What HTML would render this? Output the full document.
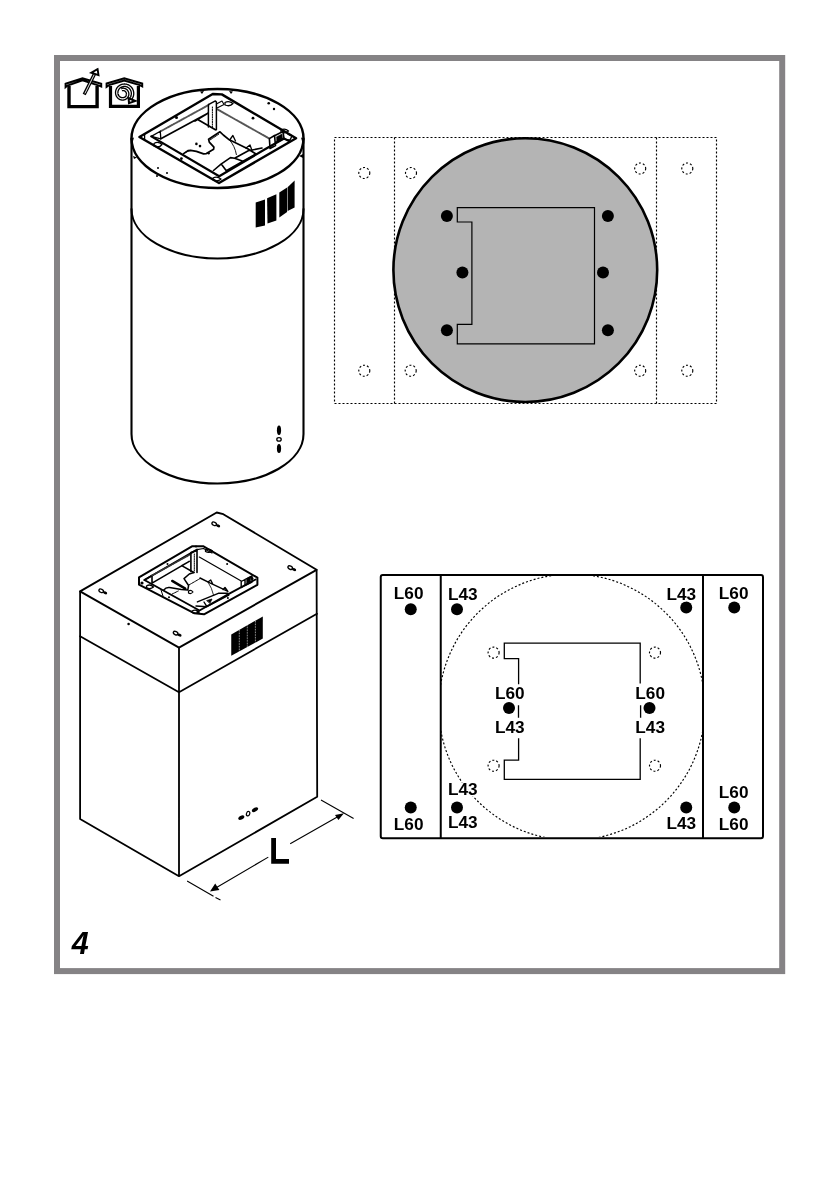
<!DOCTYPE html>
<html><head><meta charset="utf-8">
<style>
html,body{margin:0;padding:0;background:#fff;width:840px;height:1190px;overflow:hidden}
svg{position:absolute;left:0;top:0;display:block;will-change:transform}
text{font-family:"Liberation Sans",sans-serif;font-weight:bold;fill:#000}
</style></head><body>
<svg width="840" height="1190" viewBox="0 0 840 1190">
<!-- frame -->
<rect x="57" y="58" width="725.2" height="913.1" fill="none" stroke="#858385" stroke-width="6"/>

<!-- plan view 1 (top right) -->
<g fill="none" stroke="#000" stroke-width="1.15" stroke-dasharray="2 2">
<rect x="334.5" y="137.5" width="382" height="266"/>
<line x1="394.5" y1="137.5" x2="394.5" y2="403.5"/>
<line x1="656.5" y1="137.5" x2="656.5" y2="403.5"/>
<circle cx="364.3" cy="173" r="5.5"/>
<circle cx="411" cy="173" r="5.5"/>
<circle cx="640.2" cy="168.5" r="5.5"/>
<circle cx="687.3" cy="168.5" r="5.5"/>
<circle cx="364.3" cy="370.7" r="5.5"/>
<circle cx="410.7" cy="370.7" r="5.5"/>
<circle cx="640.2" cy="370.7" r="5.5"/>
<circle cx="687.3" cy="370.7" r="5.5"/>
</g>
<circle cx="525.3" cy="270.1" r="131.9" fill="#b4b4b4" stroke="#000" stroke-width="2.6"/>
<path d="M457.3 207.6 H594.5 V343.8 H457.3 V324.3 H471.9 V222 H457.3 Z" fill="none" stroke="#000" stroke-width="1.2"/>
<g fill="#000">
<circle cx="446.9" cy="216" r="6"/>
<circle cx="607.9" cy="216" r="6"/>
<circle cx="462.4" cy="272.4" r="6"/>
<circle cx="603" cy="272.4" r="6"/>
<circle cx="446.9" cy="330.2" r="6"/>
<circle cx="607.9" cy="330.2" r="6"/>
</g>

<!-- plan view 2 (bottom right) -->
<rect x="380.75" y="575" width="382.25" height="263.25" rx="2" fill="none" stroke="#000" stroke-width="2"/>
<line x1="440.75" y1="575" x2="440.75" y2="838.25" stroke="#000" stroke-width="2"/>
<line x1="703" y1="575" x2="703" y2="838.25" stroke="#000" stroke-width="2"/>
<clipPath id="cp2"><rect x="441" y="576" width="261" height="261"/></clipPath>
<circle cx="571.8" cy="707.1" r="133.05" fill="none" stroke="#000" stroke-width="1.15" stroke-dasharray="2 2" clip-path="url(#cp2)"/>
<g fill="none" stroke="#000" stroke-width="1.15" stroke-dasharray="2 2">
<circle cx="493.6" cy="652.6" r="5.5"/>
<circle cx="655" cy="652.6" r="5.5"/>
<circle cx="493.6" cy="765.7" r="5.5"/>
<circle cx="655" cy="765.7" r="5.5"/>
</g>
<g fill="none" stroke="#000" stroke-width="1.3">
<path d="M518.6 684.3 V658.6 H504.3 V643.1 H640.2 V683.6"/>
<path d="M518.6 738.3 V760.2 H504.3 V779.3 H640.2 V738.3"/>
<path d="M518.5 705.3 V717.8 M640.6 705.3 V717.8"/>
</g>
<g fill="#000">
<circle cx="410.75" cy="609.25" r="6"/>
<circle cx="457" cy="609.25" r="6"/>
<circle cx="686.25" cy="607.5" r="6"/>
<circle cx="734.25" cy="607.5" r="6"/>
<circle cx="509" cy="708.1" r="6"/>
<circle cx="649.5" cy="708.1" r="6"/>
<circle cx="410.75" cy="807.5" r="6"/>
<circle cx="457" cy="807.5" r="6"/>
<circle cx="686.25" cy="807.5" r="6"/>
<circle cx="734.25" cy="807.5" r="6"/>
</g>
<g font-size="17.2" stroke="#fff" stroke-width="3" paint-order="stroke" stroke-linejoin="round">
<text x="393.84" y="598.50">L60</text>
<text x="448.04" y="599.60">L43</text>
<text x="666.44" y="599.60">L43</text>
<text x="718.84" y="598.80">L60</text>
<text x="495.04" y="699.30">L60</text>
<text x="495.04" y="732.70">L43</text>
<text x="635.34" y="699.30">L60</text>
<text x="635.34" y="732.70">L43</text>
<text x="448.04" y="794.90">L43</text>
<text x="448.04" y="827.60">L43</text>
<text x="393.84" y="829.80">L60</text>
<text x="718.84" y="797.60">L60</text>
<text x="666.44" y="828.80">L43</text>
<text x="718.84" y="830.00">L60</text>
</g>


<!-- cylinder hood -->
<g fill="none" stroke="#000" stroke-linecap="round" stroke-linejoin="round">
<path d="M131.5 138.5 V434 A86 49.5 0 0 0 303.5 434 V138.5" stroke-width="2.1"/>
<ellipse cx="217.5" cy="138.5" rx="86" ry="49.5" stroke-width="2.5"/>
<path d="M131.5 209 A86 49.5 0 0 0 303.5 209" stroke-width="2"/>
<!-- flange -->
<path d="M139.4 137 L212.7 94 L221.8 94.4 L296.1 138.2 L219 183 Z" stroke-width="2.4"/>
<path d="M151.3 136.4 L219.2 176.3 L265 149.3 L284 138.5 L289 141" stroke-width="2.2"/>
<path d="M160.8 131.2 L208.4 105.1 M217.5 109.4 L269.4 138.6" stroke="#555" stroke-width="1.9" stroke-dasharray="1.1 0.9"/>
<path d="M160.8 138.8 L207.9 113.2 M197.7 119.6 L215.4 129.8 M195 121 L207.9 113.2" stroke-width="1.7"/>
<path d="M151.3 136.4 L160.3 131.2 L160.8 138.8 Z M144.6 134 V139.8" stroke-width="1.3"/>
<path d="M208.4 104.6 L215.4 100.9 L216.4 102 V129.8 M208.4 104.6 V127" stroke-width="1.5"/>
<path d="M212.4 107 V128" stroke-width="1" stroke-dasharray="1.2 1.2"/>
<path d="M216.4 104 L222 101 L224 104.5 L217 108" stroke-width="1.1"/>
<!-- fan housing -->
<path d="M183.6 153.6 L187.9 150.7 L190.7 150.4 L196.4 151.4 L203.6 153.9 L206.4 153.6 L213.6 149.3 L213.9 147.1 L209.3 142.1 L208.6 139.3 L220 131.8 L223.3 135 L229.3 139.8 L247.7 148.7 L256 154" stroke-width="1.7"/>
<path d="M185 152.5 L190 150.5 M210 140 L219 134" stroke-width="1" stroke-dasharray="0.8 0.8"/>
<path d="M229.3 139.8 Q235 146 236.4 154.6" stroke-width="0.9"/>
<path d="M213.5 170.5 L221 164.2 L230.5 157.6 L234.6 158.2 L243 161.2 M222 165 L226.3 170.7 L243 161.2 L256 154 M234.6 158.2 L248.3 150.8 L262 148" stroke-width="1.6"/>
<path d="M230 139.5 L232.9 135.5 L235.5 141 M246 148 L250 145 L252 150.5" stroke-width="1.3"/>
<path d="M269.4 138.6 L274.5 135.5 L275.5 145.5 L270 148.5 Z M275 135.5 L283 131.5 L284 138.5 L276 142.5" stroke-width="1.6"/>
<path d="M276.5 137 L282 134 L282.5 139 L277 142 Z" fill="#000" stroke-width="0.6"/>
<path d="M288 134 L292 136 L290 140 L287 140" stroke-width="1.4"/>
<!-- slotted holes -->
<path d="M154 143.5 Q158 141 162 144.5 Q159 148.5 154 146 Z M225 102.5 Q229 100.5 233 103.5 Q230 107 225 105 Z M281 130 Q285 128 288.5 131 Q285 134 281 132 Z M213 178 Q217 176 221 179 Q218 182 213 180 Z" stroke-width="1.3"/>
</g>
<g fill="#000">
<circle cx="196.4" cy="143.9" r="1.3"/><circle cx="200" cy="146.1" r="1.3"/>
<circle cx="181.4" cy="158.6" r="1.4"/><circle cx="208.6" cy="153.2" r="1.2"/>
<circle cx="253" cy="118.2" r="1.4"/><circle cx="268.7" cy="103.2" r="1.3"/>
<circle cx="176.5" cy="117.5" r="1.5"/><circle cx="274" cy="109" r="1.2"/>
<circle cx="158" cy="168" r="1"/><circle cx="167" cy="173" r="1"/><circle cx="157" cy="176" r="1"/>
<path d="M200 91.5 L204 91 L202 94 Z M229 91 L233 91.5 L231 94 Z M130 139 L134 137.5 L133 141 Z M301 137.5 L305 139 L302 141 Z M299 156 L303 154 L303 158 Z M133 156 L137 157.5 L134 159 Z"/>
</g>
<g fill="#000">
<path d="M255.7 202.5 L265 199.6 L265 225.4 L255.7 227.5 Z"/>
<path d="M267.1 198.2 L276.4 194.3 L276.4 220.4 L267.5 223.6 Z"/>
<path d="M279.3 192.5 L287.1 187.5 L287.1 212.1 L279.3 217.5 Z"/>
<path d="M287.6 187.2 L294.6 180.4 L294.6 207.5 L287.6 211 Z"/>
<ellipse cx="279" cy="430.2" rx="2.1" ry="4.7"/>
<ellipse cx="279" cy="448.5" rx="2.1" ry="4.5"/>
</g>
<ellipse cx="279" cy="439.4" rx="2.2" ry="1.7" fill="none" stroke="#000" stroke-width="1.3"/>


<!-- box hood -->
<g fill="none" stroke="#000" stroke-linecap="round" stroke-linejoin="round">
<path d="M80.1 591.4 L216.7 512.5 L223.3 514.2 L316.6 569.8 L179 647.6 Z" stroke-width="1.9"/>
<path d="M80.1 591.4 V819 L179 876.2 L317.2 796.8 L316.6 569.8 M179 647.6 V876.2" stroke-width="1.8"/>
<path d="M80.1 636.2 L179 692.2 L317 613.8" stroke-width="1.75"/>
<!-- flange -->
<path d="M139 577.4 L192.4 546.2 L203.1 546.2 L257.4 577.6 V584.8 L204 614.3 L194.5 613.3 L139 584.7 Z" stroke-width="2"/>
<path d="M144.4 580 L199.5 610.5 L229.8 593.3 L255.5 579.5 M144.4 580 L197 549.6" stroke-width="1.9"/>
<path d="M144.4 580 L152 575.5 L152 583 M152 583.1 L189.3 561.4 L181.7 565.6 L193.9 572.5" stroke-width="1.6"/>
<path d="M152 575.5 L189.3 555" stroke="#333" stroke-width="1.6" stroke-dasharray="1 0.8"/>
<path d="M146.5 586 Q150 583.5 153.5 587 Q150 590 146.5 587.5 Z M205.5 550 Q209 548 212.5 551 Q209 553.5 205.5 551.5 Z M192 611 Q196 609 199 612 Q196 614.5 192 612.5 Z" stroke-width="1.3"/>
<path d="M199.3 557.1 L241.2 581 M197 549.6 L203.5 548.5 L212 553" stroke-width="1.2"/>
<path d="M190.9 552.5 L197 550.4 V572.5 M190.9 552.5 V571.5" stroke-width="1.6"/>
<path d="M194.3 554 V571" stroke-width="1" stroke-dasharray="0.9 0.9"/>
<path d="M241.2 581.5 V587.6 L245 585.5 V579.5 Z M245 579.5 L252 575.8 V582 L245 585.5" stroke-width="1.4"/>
<path d="M246.5 578.5 L250.5 576.5 V582 L246.5 584 Z" fill="#000" stroke-width="0.5"/>
<!-- fan -->
<path d="M163.6 590.2 Q166 587 169.5 587.5 L181.4 589.4 L187.8 590 L188.6 585.5 L184 578.6 L189.3 574 L193.9 572.5" stroke-width="1.5"/>
<path d="M172.2 594 L178.3 591 M189.2 584.8 L200 578.6" stroke-width="1" stroke-dasharray="0.8 0.8"/>
<path d="M172.2 580.9 L185.3 588.6" stroke-width="2.4"/>
<path d="M207.9 581.9 Q212 588 213.6 595.2" stroke-width="0.8"/>
<path d="M200 578 L209.8 582.9 L227.9 591.4 M208 582 L210.7 580 L212.5 583.5 M223 589.5 L225 587.5 L227.5 591" stroke-width="1.4"/>
<path d="M197.4 601.9 L218.3 593.3 L227.9 593.3 M196 606 L206.9 606.7 L228.8 595.2 M206.9 606.7 L204 602" stroke-width="1.4"/>
<path d="M207 600.5 L212 599 L210 603 Z" fill="#000" stroke-width="0.8"/>
<path d="M188.5 591 Q191 589.5 193 592 Q191 594.5 188.5 593 Z" stroke-width="1.2"/>
<path d="M161 590 L163 596" stroke-width="1"/>
</g>
<g fill="#000">
<path d="M231.25 634.4 L262.8 616.5 V638.6 L231.25 655.8 Z"/>
<ellipse cx="218.1" cy="525.8" rx="2.2" ry="1.4" transform="rotate(25 218.1 525.8)"/><ellipse cx="294.1" cy="569.6" rx="2.2" ry="1.4" transform="rotate(25 294.1 569.6)"/><ellipse cx="105.1" cy="592.8" rx="2.2" ry="1.4" transform="rotate(25 105.1 592.8)"/><ellipse cx="179.5" cy="635.1" rx="2.2" ry="1.4" transform="rotate(25 179.5 635.1)"/>
<circle cx="128.6" cy="624" r="1.3"/>
<circle cx="167.5" cy="564" r="1"/><circle cx="227.1" cy="564" r="1"/><circle cx="169" cy="597.3" r="1"/><circle cx="227.9" cy="598" r="1"/>
<circle cx="142" cy="583" r="1.6"/><circle cx="252" cy="578.5" r="1.5"/><circle cx="196" cy="546.5" r="1"/><circle cx="198" cy="612" r="1.6"/>
<ellipse cx="241.3" cy="817.6" rx="3.3" ry="1.9" transform="rotate(-30 241.3 817.6)"/>
<ellipse cx="255" cy="809.7" rx="3.4" ry="1.9" transform="rotate(-30 255 809.7)"/>
<path d="M271.2 838.1 H276 V859 H289 V863.8 H271.2 Z"/>
<path d="M210 891.4 L215.2 883.6 L219.4 890 Z M344 813.3 L335 815 L338.4 820 Z"/>
</g>
<g stroke="#fff" stroke-width="0.7" stroke-dasharray="0.8 0.8">
<path d="M239.3 630 V651.5 M247.3 625.5 V647 M255.4 621 V642.5"/>
</g>
<ellipse cx="248.1" cy="813.7" rx="1.6" ry="2.3" transform="rotate(20 248.1 813.7)" fill="none" stroke="#000" stroke-width="1.2"/>
<g fill="none" stroke="#000" stroke-width="1.1">
<path d="M187.1 881 L213.5 896.2 M215.5 897.4 L220.5 900 M321 800 L353.6 818.6"/>
<path d="M214 889 L268.3 857.1 M290.2 843.8 L339 816"/>
</g>


<g fill="none" stroke="#000" stroke-width="1.3"><ellipse cx="214.2" cy="523.8" rx="2.4" ry="1.6" transform="rotate(25 214.2 523.8)"/><ellipse cx="290.2" cy="567.6" rx="2.4" ry="1.6" transform="rotate(25 290.2 567.6)"/><ellipse cx="101.2" cy="590.8" rx="2.4" ry="1.6" transform="rotate(25 101.2 590.8)"/><ellipse cx="175.6" cy="633.1" rx="2.4" ry="1.6" transform="rotate(25 175.6 633.1)"/></g>
<!-- icons -->
<g fill="none" stroke="#000" stroke-linejoin="miter">
<path d="M69 86 V106.6 H97.1 V86" stroke-width="3.4"/>
<path d="M65.6 83.8 L82.5 78.2 L101.2 83.8 V86.5 L99 85.6 L82.5 80.4 L67.5 85.6 L65.6 87.2 Z" stroke-width="2"/>
<path d="M110.5 86 V106.4 H138.4 V86" stroke-width="3.2"/>
<path d="M106.6 83.5 L124.25 78.4 L142.2 83.5 V86.3 L139.75 85.1 L124.25 80.6 L109 85.1 L106.6 86.8 Z" stroke-width="2"/>
</g>
<path d="M84.2 94.6 L94.6 73.8" stroke="#000" stroke-width="3.4" fill="none"/>
<path d="M84.9 93.4 L94.6 73.8" stroke="#fff" stroke-width="0.9" fill="none"/>
<path d="M97.6 69.2 L91.3 72.7 L98.5 75.1 Z" fill="#fff" stroke="#000" stroke-width="1.9" stroke-linejoin="miter"/>
<path d="M121.65 89.68 L121.88 89.60 L122.11 89.53 L122.35 89.48 L122.60 89.44 L122.85 89.42 L123.10 89.41 L123.35 89.41 L123.61 89.43 L123.86 89.47 L124.12 89.52 L124.37 89.59 L124.62 89.67 L124.86 89.76 L125.11 89.87 L125.34 90.00 L125.57 90.14 L125.79 90.29 L126.00 90.46 L126.21 90.64 L126.40 90.83 L126.58 91.04 L126.75 91.25 L126.91 91.48 L127.05 91.72 L127.18 91.97 L127.30 92.22 L127.40 92.49 L127.48 92.76 L127.55 93.04 L127.60 93.32 L127.63 93.60 L127.65 93.89 L127.65 94.18 L127.63 94.47 L127.59 94.76 L127.53 95.05 L127.46 95.33 L127.37 95.62 L127.25 95.89 L127.13 96.16 L126.98 96.43 L126.82 96.68 L126.64 96.93 L126.44 97.17 L126.23 97.39 L126.01 97.60 L125.77 97.80 L125.51 97.98 L125.25 98.15 L124.97 98.30 L124.68 98.44 L124.38 98.56 L124.07 98.66 L123.76 98.74 L123.44 98.80 L123.11 98.84 L122.78 98.86 L122.44 98.86 L122.11 98.84 L121.77 98.80 L121.43 98.74 L121.10 98.66 L120.77 98.55 L120.44 98.42 L120.12 98.28 L119.81 98.11 L119.50 97.92 L119.21 97.71 L118.93 97.49 L118.66 97.24 L118.40 96.98 L118.16 96.70 L117.93 96.40 L117.72 96.09 L117.52 95.76 L117.35 95.42 L117.20 95.06 L117.06 94.70 L116.95 94.32 L116.86 93.94 L116.79 93.55 L116.74 93.15 L116.72 92.75 L116.72 92.35 L116.75 91.94 L116.80 91.53 L116.87 91.12 L116.97 90.72 L117.10 90.32 L117.24 89.92 L117.41 89.54 L117.61 89.16 L117.83 88.79 L118.07 88.43 L118.33 88.08 L118.61 87.75 L118.92 87.43 L119.24 87.13 L119.58 86.85 L119.94 86.59 L120.32 86.34 L120.71 86.12 L121.12 85.92 L121.54 85.75 L121.97 85.60 L122.41 85.47 L122.86 85.37 L123.31 85.29 L123.77 85.24 L124.24 85.22 L124.71 85.22 L125.17 85.25 L125.64 85.31 L126.11 85.40 L126.57 85.52 L127.02 85.66 L127.47 85.83 L127.90 86.02 L128.33 86.24 L128.74 86.49 L129.14 86.76 L129.53 87.06 L129.89 87.38 L130.24 87.72 L130.57 88.08 L130.88 88.46 L131.16 88.86 L131.42 89.28 L131.66 89.71 L131.87 90.16 L132.05 90.62 L132.21 91.09 L132.33 91.58 L132.43 92.07 L132.50 92.56 L132.54 93.06 L132.55 93.57 L132.52 94.07 L132.47 94.58 L132.39 95.08 L132.27 95.58 L132.13 96.07 L131.95 96.55 L131.75 97.02 L131.51 97.48 L131.25 97.92 L130.96 98.35 L130.65 98.77 L130.30 99.16 L129.94 99.53" stroke="#000" stroke-width="3.7" fill="none"/>
<path d="M121.65 89.68 L121.88 89.60 L122.11 89.53 L122.35 89.48 L122.60 89.44 L122.85 89.42 L123.10 89.41 L123.35 89.41 L123.61 89.43 L123.86 89.47 L124.12 89.52 L124.37 89.59 L124.62 89.67 L124.86 89.76 L125.11 89.87 L125.34 90.00 L125.57 90.14 L125.79 90.29 L126.00 90.46 L126.21 90.64 L126.40 90.83 L126.58 91.04 L126.75 91.25 L126.91 91.48 L127.05 91.72 L127.18 91.97 L127.30 92.22 L127.40 92.49 L127.48 92.76 L127.55 93.04 L127.60 93.32 L127.63 93.60 L127.65 93.89 L127.65 94.18 L127.63 94.47 L127.59 94.76 L127.53 95.05 L127.46 95.33 L127.37 95.62 L127.25 95.89 L127.13 96.16 L126.98 96.43 L126.82 96.68 L126.64 96.93 L126.44 97.17 L126.23 97.39 L126.01 97.60 L125.77 97.80 L125.51 97.98 L125.25 98.15 L124.97 98.30 L124.68 98.44 L124.38 98.56 L124.07 98.66 L123.76 98.74 L123.44 98.80 L123.11 98.84 L122.78 98.86 L122.44 98.86 L122.11 98.84 L121.77 98.80 L121.43 98.74 L121.10 98.66 L120.77 98.55 L120.44 98.42 L120.12 98.28 L119.81 98.11 L119.50 97.92 L119.21 97.71 L118.93 97.49 L118.66 97.24 L118.40 96.98 L118.16 96.70 L117.93 96.40 L117.72 96.09 L117.52 95.76 L117.35 95.42 L117.20 95.06 L117.06 94.70 L116.95 94.32 L116.86 93.94 L116.79 93.55 L116.74 93.15 L116.72 92.75 L116.72 92.35 L116.75 91.94 L116.80 91.53 L116.87 91.12 L116.97 90.72 L117.10 90.32 L117.24 89.92 L117.41 89.54 L117.61 89.16 L117.83 88.79 L118.07 88.43 L118.33 88.08 L118.61 87.75 L118.92 87.43 L119.24 87.13 L119.58 86.85 L119.94 86.59 L120.32 86.34 L120.71 86.12 L121.12 85.92 L121.54 85.75 L121.97 85.60 L122.41 85.47 L122.86 85.37 L123.31 85.29 L123.77 85.24 L124.24 85.22 L124.71 85.22 L125.17 85.25 L125.64 85.31 L126.11 85.40 L126.57 85.52 L127.02 85.66 L127.47 85.83 L127.90 86.02 L128.33 86.24 L128.74 86.49 L129.14 86.76 L129.53 87.06 L129.89 87.38 L130.24 87.72 L130.57 88.08 L130.88 88.46 L131.16 88.86 L131.42 89.28 L131.66 89.71 L131.87 90.16 L132.05 90.62 L132.21 91.09 L132.33 91.58 L132.43 92.07 L132.50 92.56 L132.54 93.06 L132.55 93.57 L132.52 94.07 L132.47 94.58 L132.39 95.08 L132.27 95.58 L132.13 96.07 L131.95 96.55 L131.75 97.02 L131.51 97.48 L131.25 97.92 L130.96 98.35 L130.65 98.77 L130.30 99.16 L129.94 99.53" stroke="#fff" stroke-width="1.1" fill="none"/>
<path d="M128.6 98.3 L135.3 101 L129 103.2 Z" fill="#fff" stroke="#000" stroke-width="2" stroke-linejoin="miter"/>

<!-- page number -->
<text x="71.8" y="954" font-size="30.5" font-style="italic">4</text>

</svg>
</body></html>
